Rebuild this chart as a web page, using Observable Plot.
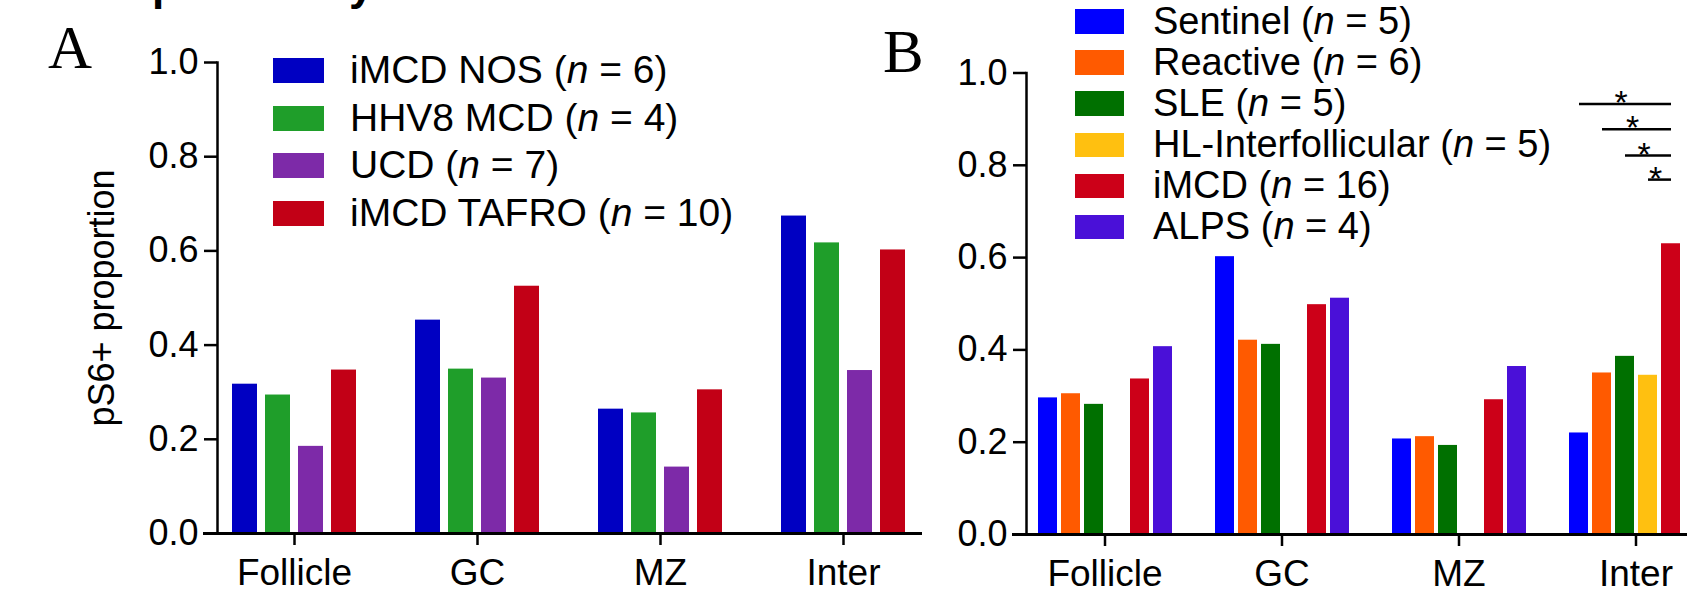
<!DOCTYPE html>
<html>
<head>
<meta charset="utf-8">
<script src="https://cdn.jsdelivr.net/npm/d3@7"></script>
<script src="https://cdn.jsdelivr.net/npm/@observablehq/plot@0.6"></script>
<style>
  html, body { margin: 0; padding: 0; background: #fff; overflow: hidden; }
  #fig { position: relative; width: 1687px; height: 594px; overflow: hidden; background: #fff; }
  .abs { position: absolute; }
  .legend { position: absolute; font-family: "Liberation Sans", Arial, sans-serif; color: #000; white-space: nowrap; }
  .legend .row { white-space: nowrap; }
  .legend .sw { display: inline-block; vertical-align: baseline; }
</style>
</head>
<body>
<div id="fig">
  <div id="panelA" class="abs" style="left:0;top:0"></div>
  <div id="panelB" class="abs" style="left:930px;top:0"></div>
  <div id="legendA" class="legend" style="left:273px;top:46px"></div>
  <div id="legendB" class="legend" style="left:1075px;top:0.5px"></div>
  <svg class="abs" style="left:0;top:0;pointer-events:none" width="1687" height="594">
    <text x="152" y="-0.5" font-family="Liberation Sans, Arial, sans-serif" font-weight="bold" font-size="44">p</text>
    <text x="349" y="-0.5" font-family="Liberation Sans, Arial, sans-serif" font-weight="bold" font-size="44">y</text>
    <text x="48" y="68" font-family="Liberation Serif, Times New Roman, serif" font-size="61">A</text>
    <text x="883" y="72" font-family="Liberation Serif, Times New Roman, serif" font-size="61">B</text>
  </svg>
</div>
<script>
const FONT = '"Liberation Sans", Arial, sans-serif';

// Shared categories and ticks
const regions = ["Follicle", "GC", "MZ", "Inter"];
const yTicks = [0, 0.2, 0.4, 0.6, 0.8, 1.0];
const yLabelA = "pS6+ proportion";

// Panel A series
const seriesA = ["iMCD NOS", "HHV8 MCD", "UCD", "iMCD TAFRO"];
const countsA = [6, 4, 7, 10];
const colorsA = ["#0000c2", "#1f9e2a", "#7d2aa8", "#c20016"];
const iMCDNOS   = [0.317, 0.453, 0.264, 0.674];
const HHV8MCD   = [0.294, 0.349, 0.256, 0.617];
const UCD       = [0.185, 0.330, 0.141, 0.346];
const iMCDTAFRO = [0.347, 0.525, 0.305, 0.602];
const valuesA = [iMCDNOS, HHV8MCD, UCD, iMCDTAFRO];

// Panel B series
const seriesB = ["Sentinel", "Reactive", "SLE", "HL-Interfollicular", "iMCD", "ALPS"];
const countsB = [5, 6, 5, 5, 16, 4];
const colorsB = ["#0000ff", "#ff5a00", "#007000", "#ffc010", "#cc0018", "#4a10d8"];
const sentinel = [0.296, 0.602, 0.207, 0.220];
const reactive = [0.305, 0.421, 0.212, 0.350];
const sle      = [0.282, 0.412, 0.193, 0.386];
const hlInter  = [null, null, null, 0.345];
const iMCD     = [0.337, 0.498, 0.292, 0.630];
const alps     = [0.407, 0.512, 0.364, null];
const valuesB = [sentinel, reactive, sle, hlInter, iMCD, alps];

// Significance brackets (panel B, Inter region)
const sigRegion = "Inter";
const sigFrom = ["Sentinel", "Reactive", "SLE", "HL-Interfollicular"];
const sigTo = "iMCD";
const sigLevel = [0.933, 0.878, 0.821, 0.769];
const sigText = ["*", "*", "*", "*"];

function tidy(series, values) {
  return series.flatMap((s, j) => regions.map((r, i) => ({region: r, series: s, value: values[j][i]})))
    .filter(d => d.value != null);
}
const dataA = tidy(seriesA, valuesA);
const dataB = tidy(seriesB, valuesB);
const sigData = sigFrom.map((f, i) => ({region: sigRegion, from: f, to: sigTo, y: sigLevel[i], label: sigText[i]}));

const baseStyle = {fontFamily: FONT, fontSize: "36px", color: "#000", background: "transparent", maxWidth: "none", overflow: "visible"};

const axisMarks = (ticks) => [
  Plot.frame({anchor: "bottom", facet: "super", stroke: "#000", strokeWidth: 3, insetLeft: -13}),
  Plot.frame({anchor: "left", facet: "super", stroke: "#000", strokeWidth: 2.5}),
  Plot.axisY({ticks, tickFormat: d3.format(".1f"), tickSize: 13, tickPadding: 6, stroke: "#000", strokeWidth: 2.5, fontSize: 36, label: null}),
  Plot.axisFx({anchor: "bottom", tickSize: 12, tickPadding: 13, stroke: "#000", strokeWidth: 2.5, fontSize: 37, label: null})
];

const plotA = Plot.plot({
  width: 940, height: 594,
  marginLeft: 216, marginRight: 18, marginTop: 62, marginBottom: 61,
  style: baseStyle,
  fx: {domain: regions, paddingInner: 0.158, paddingOuter: 0, label: null},
  x: {domain: seriesA, paddingInner: 0.23, paddingOuter: 0.415, axis: null},
  y: {domain: [0, 1], label: null},
  color: {domain: seriesA, range: colorsA},
  marks: [
    Plot.barY(dataA, {fx: "region", x: "series", y: "value", fill: "series"}),
    ...axisMarks(yTicks),
    Plot.text([yLabelA], {facet: "super", frameAnchor: "left", rotate: -90, lineAnchor: "bottom", textAnchor: "middle", dx: -104, fontSize: 36})
  ]
});
document.getElementById("panelA").append(plotA);

const plotB = Plot.plot({
  width: 806, height: 594,
  marginLeft: 95, marginRight: 20, marginTop: 72.5, marginBottom: 60,
  style: baseStyle,
  fx: {domain: regions, paddingInner: 0.111, paddingOuter: 0, label: null},
  x: {domain: seriesB, paddingInner: 0.18, paddingOuter: 0.44, axis: null},
  y: {domain: [0, 1], label: null},
  color: {domain: seriesB, range: colorsB},
  marks: [
    Plot.barY(dataB, {fx: "region", x: "series", y: "value", fill: "series"}),
    ...axisMarks(yTicks),
    Plot.link(sigData, {fx: "region", x1: "from", x2: "to", y1: "y", y2: "y", stroke: "#000", strokeWidth: 2.5}),
    Plot.text(sigData, {
      fx: "region", x: "from", y: "y", text: "label", lineAnchor: "bottom", dy: 10, dx: -4, fontSize: 34, fill: "#000",
      render(index, scales, values, dimensions, context, next) {
        // star centred between the two compared bars (the text mark adds the band centring itself)
        const X = sigData.map(d => (scales.x(d.from) + scales.x(d.to)) / 2);
        return next(index, scales, {...values, x: X}, dimensions, context);
      }
    })
  ]
});
document.getElementById("panelB").append(plotB);

function buildLegend(id, series, counts, colors, o) {
  const el = document.getElementById(id);
  el.style.fontSize = o.font + "px";
  series.forEach((s, i) => {
    const row = document.createElement("div");
    row.className = "row";
    row.style.height = o.step + "px";
    row.style.lineHeight = o.step + "px";
    const sw = document.createElement("span");
    sw.className = "sw";
    sw.style.cssText += `width:${o.sw}px;height:${o.sh}px;background:${colors[i]};margin-right:${o.gap}px`;
    row.append(sw);
    row.append(document.createTextNode(`${s} (`));
    const it = document.createElement("i");
    it.textContent = "n";
    row.append(it);
    row.append(document.createTextNode(` = ${counts[i]})`));
    el.append(row);
  });
}
buildLegend("legendA", seriesA, countsA, colorsA, {font: 39, step: 47.6, sw: 51, sh: 25, gap: 26});
buildLegend("legendB", seriesB, countsB, colorsB, {font: 38, step: 41.2, sw: 49, sh: 24.5, gap: 29});
</script>
</body>
</html>
